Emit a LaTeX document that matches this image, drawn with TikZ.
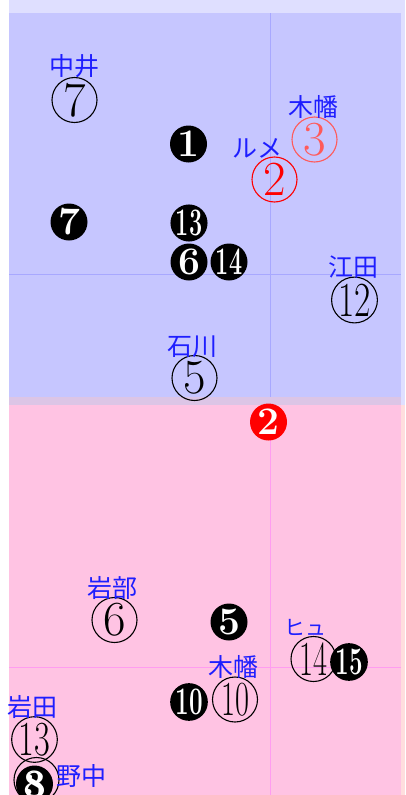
\documentclass[tikz,border=0pt]{standalone}
\usepackage{fontspec}
\newfontfamily\jp{Noto Sans CJK JP}
\definecolor{lav}{HTML}{DFDFFF}
\definecolor{bluein}{HTML}{C6C6FF}
\definecolor{pinkin}{HTML}{FFC3E3}
\definecolor{pinkout}{HTML}{FFDEDE}
\definecolor{band}{HTML}{DCC5E6}
\definecolor{gridb}{HTML}{A8A8FF}
\definecolor{gridp}{HTML}{FF9CF0}
\definecolor{lblue}{HTML}{1E1EFF}
\definecolor{lred}{HTML}{FF5A5A}
\begin{document}
\begin{tikzpicture}[x=1pt,y=-1pt,
  oc/.style={circle,draw=black,line width=1.1pt,minimum size=45pt,inner sep=0pt,font=\fontsize{49}{49}\selectfont},
  fc/.style={circle,fill=black,text=white,minimum size=37pt,inner sep=0pt,font=\bfseries\fontsize{39}{39}\selectfont},
  lab/.style={text=lblue,inner sep=0pt,font=\jp\fontsize{25}{25}\selectfont},
  slab/.style={text=lblue,inner sep=0pt,font=\jp\fontsize{21}{21}\selectfont}]
\useasboundingbox (0,0) rectangle (405,795);
\clip (0,0) rectangle (405,795);
% backgrounds
\fill[white] (0,0) rectangle (405,795);
\fill[lav] (9,0) rectangle (405,405);
\fill[bluein] (9,13) rectangle (401,397);
\fill[pinkout] (9,405) rectangle (405,795);
\fill[pinkin] (9,405) rectangle (401,795);
\fill[band] (9,397) rectangle (401,405);
% grid lines
\draw[gridb,line width=0.5pt] (270,13) -- (270,397);
\draw[gridb,line width=0.5pt] (9,274) -- (401,274);
\draw[gridp,line width=0.5pt] (270,405) -- (270,795);
\draw[gridp,line width=0.5pt] (9,667) -- (401,667);
% top half
\node[oc] (o7) at (74.5,100) {7};
\node[lab] (l7) at (74,66) {中井};
\node[fc] (f1) at (188.5,144) {1};
\node[oc,draw=lred,text=lred] (o3) at (314.5,139.5) {3};
\node[lab] (l3) at (313,107) {木幡};
\node[oc,draw=red,text=red] (o2) at (274.5,179.5) {2};
\node[lab] (l2) at (257,148) {ルメ};
\node[fc] (f7) at (69,222) {7};
\node[fc] (f13) at (189,223) {\scalebox{0.6}[1]{13}};
\node[fc] (f6) at (189,262) {6};
\node[fc] (f14) at (229,262) {\scalebox{0.6}[1]{14}};
\node[oc] (o12) at (354.5,300) {\scalebox{0.72}[1]{12}};
\node[lab] (l12) at (353,267) {江田};
\node[oc] (o5) at (194.5,378) {5};
\node[lab] (l5) at (192,347) {石川};
\node[fc,fill=red] (f2) at (268.5,422) {2};
% bottom half
\node[oc] (o6) at (114.5,620) {6};
\node[lab] (l6) at (112,588) {岩部};
\node[fc] (f5) at (229,622) {5};
\node[oc] (o14) at (313.5,659) {\scalebox{0.62}[1]{14}};
\node[slab] (l14) at (305,627) {ヒュ};
\node[fc] (f15) at (349,662) {\scalebox{0.62}[1]{15}};
\node[oc] (o10) at (235,699.5) {\scalebox{0.62}[1]{10}};
\node[lab] (l10) at (233,667) {木幡};
\node[fc] (f10) at (189,702) {\scalebox{0.62}[1]{10}};
\node[oc] (o13) at (34.5,739.5) {\scalebox{0.7}[1]{13}};
\node[lab] (l13) at (32,707) {岩田};
\node[oc] (o8) at (36.5,780) {};
\node[fc] (f8) at (34.5,784) {8};
\node[text=white,inner sep=0pt,font=\bfseries\fontsize{39}{39}\selectfont] (f3) at (35.5,785) {3};
\node[lab] (l8) at (81,776) {野中};
\end{tikzpicture}
\end{document}
